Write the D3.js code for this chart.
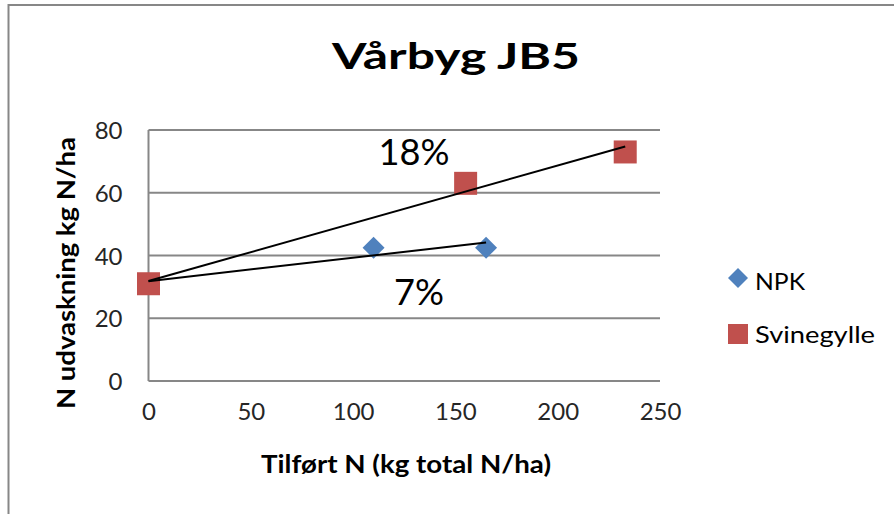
<!DOCTYPE html>
<html>
<head>
<meta charset="utf-8">
<script src="https://cdn.jsdelivr.net/npm/d3@7"></script>
<style>
  body { margin: 0; background: #fff; }
  text { font-family: Lato, "Noto Sans", sans-serif; }
</style>
</head>
<body>
<div id="chart"></div>
<script>
"use strict";

// data
var npkX = [0, 110, 165];
var npkY = [31, 42.5, 42.5];
var svinX = [0, 155, 233];
var svinY = [31, 63, 73];
var seriesNames = ["NPK", "Svinegylle"];
var xTicks = [0, 50, 100, 150, 200, 250];
var yTicks = [0, 20, 40, 60, 80];
var trendLabels = ["18%", "7%"];

var width = 894, height = 514;
var blue = "#4F81BD", red = "#C0504D", grid = "#878787";

var svg = d3.select("#chart").append("svg")
  .attr("width", width)
  .attr("height", height)
  .style("background", "#fff");

var x = d3.scaleLinear().domain([0, 250]).range([148.5, 660]);
var y = d3.scaleLinear().domain([0, 80]).range([381, 130]);

// outer frame (only top and left edges show)
svg.append("path")
  .attr("d", "M8.5,520 V5 H900")
  .attr("fill", "none")
  .attr("stroke", grid)
  .attr("stroke-width", 2);

// title
svg.append("text")
  .text("Vårbyg JB5")
  .attr("x", 456)
  .attr("y", 68.5)
  .attr("text-anchor", "middle")
  .attr("font-size", "36px")
  .attr("font-weight", "bold")
  .attr("textLength", 248)
  .attr("lengthAdjust", "spacingAndGlyphs")
  .attr("fill", "#000");

// gridlines
svg.append("g").selectAll("line")
  .data(yTicks)
  .enter().append("line")
    .attr("x1", x(0))
    .attr("x2", x(250))
    .attr("y1", function(d){ return y(d); })
    .attr("y2", function(d){ return y(d); })
    .attr("stroke", grid)
    .attr("stroke-width", 2);

// y axis line
svg.append("line")
  .attr("x1", x(0)).attr("x2", x(0))
  .attr("y1", y(80)).attr("y2", y(0))
  .attr("stroke", grid)
  .attr("stroke-width", 2);

// axes (labels only)
var yAxis = d3.axisLeft(y).tickValues(yTicks).tickSize(0).tickPadding(26);
var gy = svg.append("g").attr("transform", "translate(" + x(0) + ",0)").call(yAxis);
var xAxis = d3.axisBottom(x).tickValues(xTicks).tickSize(0).tickPadding(30);
var gx = svg.append("g").attr("transform", "translate(0," + y(0) + ")").call(xAxis);
[gx, gy].forEach(function(g){
  g.select(".domain").remove();
  g.selectAll("text")
    .attr("font-size", "24px")
    .attr("font-family", "Lato, 'Noto Sans', sans-serif")
    .attr("fill", "#262626");
});
gy.selectAll("text").attr("dy", "0.36em");
gx.selectAll("text").attr("dy", "0.36em");

// axis titles
svg.append("text")
  .text("Tilført N (kg total N/ha)")
  .attr("x", 406)
  .attr("y", 473)
  .attr("text-anchor", "middle")
  .attr("font-size", "24px")
  .attr("font-weight", "bold")
  .attr("textLength", 290)
  .attr("lengthAdjust", "spacingAndGlyphs")
  .attr("fill", "#000");

svg.append("text")
  .text("N udvaskning kg N/ha")
  .attr("transform", "translate(75,273) rotate(-90)")
  .attr("text-anchor", "middle")
  .attr("font-size", "24px")
  .attr("font-weight", "bold")
  .attr("textLength", 272)
  .attr("lengthAdjust", "spacingAndGlyphs")
  .attr("fill", "#000");

// least squares trendline
function fit(xs, ys){
  var mx = d3.mean(xs), my = d3.mean(ys);
  var sxy = 0, sxx = 0;
  xs.forEach(function(v, i){
    sxy += (v - mx) * (ys[i] - my);
    sxx += (v - mx) * (v - mx);
  });
  var b = sxy / sxx;
  var a = my - b * mx;
  var x0 = d3.min(xs), x1 = d3.max(xs);
  return [[x0, a + b * x0], [x1, a + b * x1]];
}

var npkPts = npkX.map(function(v, i){ return [v, npkY[i]]; });
var svinPts = svinX.map(function(v, i){ return [v, svinY[i]]; });

var diamond = function(cx, cy, r){
  return "M" + cx + "," + (cy - r) + "L" + (cx + r) + "," + cy +
    "L" + cx + "," + (cy + r) + "L" + (cx - r) + "," + cy + "Z";
};

// NPK markers
svg.append("g").selectAll("path")
  .data(npkPts)
  .enter().append("path")
    .attr("d", function(d){ return diamond(x(d[0]), y(d[1]), 11); })
    .attr("fill", blue);

// Svinegylle markers
svg.append("g").selectAll("rect")
  .data(svinPts)
  .enter().append("rect")
    .attr("x", function(d){ return x(d[0]) - 11.5; })
    .attr("y", function(d){ return y(d[1]) - 11.5; })
    .attr("width", 23)
    .attr("height", 23)
    .attr("fill", red);

// trendlines
var line = d3.line().x(function(d){ return x(d[0]); }).y(function(d){ return y(d[1]); });
[fit(svinX, svinY), fit(npkX, npkY)].forEach(function(t){
  svg.append("path")
    .attr("d", line(t))
    .attr("fill", "none")
    .attr("stroke", "#000")
    .attr("stroke-width", 2);
});

// trendline labels
svg.append("text")
  .text(trendLabels[0])
  .attr("x", 414)
  .attr("y", 164.5)
  .attr("text-anchor", "middle")
  .attr("font-size", "36px")
  .attr("textLength", 71)
  .attr("lengthAdjust", "spacingAndGlyphs")
  .attr("fill", "#000");
svg.append("text")
  .text(trendLabels[1])
  .attr("x", 419)
  .attr("y", 305)
  .attr("text-anchor", "middle")
  .attr("font-size", "36px")
  .attr("textLength", 50)
  .attr("lengthAdjust", "spacingAndGlyphs")
  .attr("fill", "#000");

// legend
var legend = svg.append("g");
legend.append("path")
  .attr("d", diamond(738, 278, 10))
  .attr("fill", blue);
legend.append("rect")
  .attr("x", 728).attr("y", 324)
  .attr("width", 20).attr("height", 20)
  .attr("fill", red);
legend.selectAll("text")
  .data(seriesNames)
  .enter().append("text")
    .text(function(d){ return d; })
    .attr("x", 755)
    .attr("y", function(d, i){ return i == 0 ? 289.5 : 343; })
    .attr("font-size", "24px")
    .attr("textLength", function(d, i){ return i == 0 ? 50 : 120; })
    .attr("lengthAdjust", "spacingAndGlyphs")
    .attr("fill", "#000");
</script>
</body>
</html>
